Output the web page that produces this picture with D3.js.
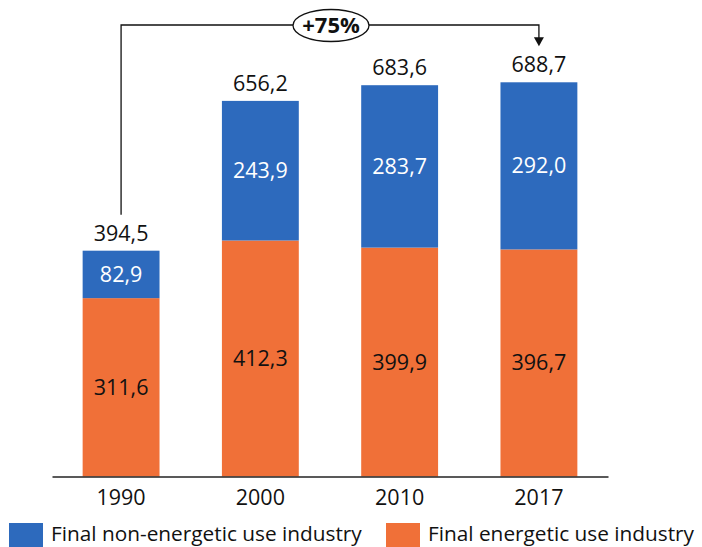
<!DOCTYPE html>
<html lang="en">
<head>
<meta charset="UTF-8">
<title>Industry use</title>
<script src="https://cdn.jsdelivr.net/npm/d3@7"></script>
<style>
  body { margin: 0; padding: 0; background: #fff; }
  svg { display: block; font-family: "Open Sans", sans-serif; }
</style>
</head>
<body>
<svg id="chart" width="702" height="547"></svg>
<script>
// values
const years = ["1990", "2000", "2010", "2017"];
const energetic = [311.6, 412.3, 399.9, 396.7];
const nonEnergetic = [82.9, 243.9, 283.7, 292.0];
const totals = [394.5, 656.2, 683.6, 688.7];
const seriesNames = ["Final non-energetic use industry", "Final energetic use industry"];
const colors = ["#2D6ABD", "#F07038"];

const fmt = v => v.toFixed(1).replace(".", ",");

const svg = d3.select("#chart");
const baseY = 476.5;
const fs = 21.5;

const x = d3.scaleBand().domain(years).range([52, 608]).paddingInner(0.448).paddingOuter(0.22);
const y = d3.scaleLinear().domain([0, 800]).range([baseY, baseY - 800 * 0.5724]);

const rows = years.map((yr, i) => ({ yr, e: energetic[i], n: nonEnergetic[i], t: totals[i] }));

// energetic (bottom)
svg.append("g").selectAll("rect").data(rows).enter().append("rect")
  .attr("x", d => x(d.yr)).attr("width", x.bandwidth())
  .attr("y", d => y(d.e)).attr("height", d => y(0) - y(d.e))
  .attr("fill", colors[1]);

// non-energetic (top)
svg.append("g").selectAll("rect").data(rows).enter().append("rect")
  .attr("x", d => x(d.yr)).attr("width", x.bandwidth())
  .attr("y", d => y(d.e + d.n)).attr("height", d => y(d.e) - y(d.e + d.n))
  .attr("fill", colors[0]);

const cx = d => x(d.yr) + x.bandwidth() / 2;

// segment labels
svg.append("g").selectAll("text").data(rows).enter().append("text")
  .attr("x", cx).attr("y", d => y(d.e / 2)).attr("dy", "0.35em")
  .attr("text-anchor", "middle").attr("font-size", fs).attr("fill", "#111")
  .text(d => fmt(d.e));
svg.append("g").selectAll("text").data(rows).enter().append("text")
  .attr("x", cx).attr("y", d => y(d.e + d.n / 2)).attr("dy", "0.35em")
  .attr("text-anchor", "middle").attr("font-size", fs).attr("fill", "#fff")
  .text(d => fmt(d.n));

// totals
svg.append("g").selectAll("text").data(rows).enter().append("text")
  .attr("x", cx).attr("y", d => y(d.t) - 10)
  .attr("text-anchor", "middle").attr("font-size", fs).attr("fill", "#111")
  .text(d => fmt(d.t));

// x axis
const axis = svg.append("g").attr("transform", `translate(0,${baseY})`)
  .call(d3.axisBottom(x).tickSize(0).tickPadding(13));
axis.select(".domain").attr("stroke", "#222").attr("stroke-width", 1.5);
axis.selectAll("text").attr("font-size", fs).attr("fill", "#111").attr("font-family", "Open Sans, sans-serif");

// +75% annotation
const first = rows[0], last = rows[rows.length - 1];
const lineY = 25;
const leftX = cx(first);
const rightX = cx(last);
svg.append("path")
  .attr("d", `M${leftX},${y(first.t) - 36} V${lineY} H${rightX} V${y(last.t) - 42}`)
  .attr("fill", "none").attr("stroke", "#111").attr("stroke-width", 1.3);
svg.append("path")
  .attr("d", `M${rightX - 5},${y(last.t) - 45} L${rightX + 5},${y(last.t) - 45} L${rightX},${y(last.t) - 36} Z`)
  .attr("fill", "#111");
const midX = 331;
svg.append("ellipse").attr("cx", midX).attr("cy", 25.5).attr("rx", 38).attr("ry", 16)
  .attr("fill", "#fff").attr("stroke", "#111").attr("stroke-width", 1.3);
svg.append("text").attr("x", midX).attr("y", 25.5).attr("dy", "0.36em")
  .attr("text-anchor", "middle").attr("font-size", 22).attr("font-weight", "bold").attr("fill", "#111")
  .text("+" + Math.round((last.t / first.t - 1) * 100) + "%");

// legend
const legend = svg.append("g").attr("transform", "translate(9,523)");
const legX = [0, 377];
seriesNames.forEach((name, i) => {
  const g = legend.append("g").attr("transform", `translate(${legX[i]},0)`);
  g.append("rect").attr("width", 34).attr("height", 26).attr("fill", colors[i]);
  g.append("text").attr("x", 42).attr("y", 11).attr("dy", "0.35em")
    .attr("font-size", 20.8).attr("fill", "#111").text(name);
});
</script>
</body>
</html>
